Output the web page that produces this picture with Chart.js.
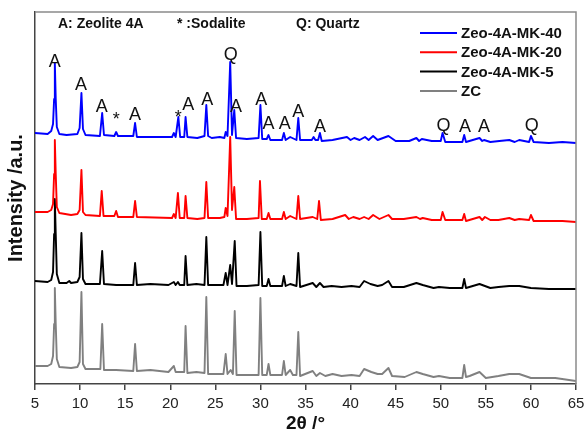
<!DOCTYPE html>
<html>
<head>
<meta charset="utf-8">
<script src="https://cdn.jsdelivr.net/npm/chart.js@4.4.1/dist/chart.umd.min.js"></script>
<style>
  html, body { margin: 0; padding: 0; background: #fff; overflow: hidden; }
  canvas { display: block; }
</style>
</head>
<body>
<canvas id="xrd" width="585" height="429"></canvas>
<script>
// XRD patterns, stacked (intensity in a.u., offsets included as plotted)
const seriesNames = ["Zeo-4A-MK-40", "Zeo-4A-MK-20", "Zeo-4A-MK-5", "ZC"];
const seriesColors = ["#0000ff", "#ff0000", "#000000", "#808080"];

const zeoMK40 = [
  [5, 251], [6.4, 250], [6.8, 253], [7.0, 260], [7.12, 285], [7.2, 321], [7.3, 285], [7.42, 257],
  [7.7, 250], [8.5, 249], [9.7, 250], [9.95, 256], [10.15, 291], [10.32, 255], [10.6, 249],
  [12.2, 248], [12.45, 271], [12.65, 249], [13.8, 248], [14.0, 252], [14.2, 248], [15.9, 248],
  [16.1, 261], [16.3, 247], [20.2, 247], [20.4, 251], [20.6, 247], [20.9, 267], [21.1, 247],
  [21.55, 247], [21.7, 267], [21.9, 247], [23.0, 246], [23.8, 248], [24.0, 279], [24.2, 248],
  [24.6, 246], [25.5, 247], [26.0, 246], [26.15, 252], [26.35, 248], [26.65, 322], [26.85, 249],
  [27.1, 274], [27.3, 246], [28.5, 245], [29.8, 246], [30.0, 279], [30.2, 245], [30.7, 245],
  [30.9, 249], [31.1, 244], [32.4, 244], [32.6, 251], [32.8, 244], [33.3, 247], [34.0, 244],
  [34.2, 266], [34.4, 244], [35.7, 244], [35.9, 247], [36.1, 244], [36.4, 244], [36.6, 251],
  [36.8, 243], [38.0, 244], [39.6, 247], [40.0, 244], [40.4, 246], [41.0, 244], [41.6, 247],
  [42.0, 244], [42.5, 248], [43.0, 244], [44.2, 248], [45.0, 243], [46.5, 243], [47.3, 246],
  [47.6, 243], [47.9, 245], [49.0, 243], [50.0, 243], [50.2, 251], [50.5, 242], [52.4, 242],
  [52.6, 249], [52.8, 242], [54.3, 246], [54.6, 243], [54.8, 244], [55.5, 242], [56.5, 243],
  [57.6, 244], [58.2, 242], [58.7, 244], [59.8, 242], [60.0, 248], [60.3, 242], [62.0, 241],
  [63.5, 242], [65, 241]
];

const zeoMK20 = [
  [5, 172], [6.4, 172], [6.8, 174], [7.0, 180], [7.12, 210], [7.2, 244], [7.3, 210], [7.42, 177],
  [7.7, 171], [9.0, 169], [9.7, 170], [9.95, 174], [10.15, 214], [10.32, 172], [10.6, 169],
  [12.2, 168], [12.4, 193], [12.6, 168], [13.8, 168], [14.0, 173], [14.2, 167], [15.9, 167],
  [16.1, 183], [16.3, 167], [20.2, 166], [20.4, 170], [20.6, 166], [20.85, 191], [21.05, 166],
  [21.55, 166], [21.7, 188], [21.9, 166], [23.0, 165], [23.8, 166], [24.0, 202], [24.2, 166],
  [25.5, 166], [26.0, 167], [26.15, 176], [26.35, 168], [26.65, 247], [26.85, 174], [27.1, 197],
  [27.3, 165], [28.5, 165], [29.8, 166], [29.95, 203], [30.15, 165], [30.7, 165], [30.9, 171],
  [31.1, 165], [32.4, 165], [32.6, 172], [32.8, 165], [33.3, 168], [34.0, 165], [34.2, 188],
  [34.4, 165], [35.8, 167], [36.3, 165], [36.5, 183], [36.7, 164], [38.0, 165], [39.4, 169],
  [39.8, 165], [40.3, 167], [41.0, 165], [41.5, 167], [42.0, 165], [42.5, 169], [43.2, 165],
  [44.2, 169], [44.6, 165], [45.9, 165], [47.3, 167], [47.7, 165], [48.0, 166], [49.0, 164],
  [50.0, 164], [50.2, 172], [50.5, 164], [52.4, 164], [52.6, 170], [52.8, 163], [54.3, 167],
  [54.6, 164], [54.9, 167], [55.5, 164], [56.4, 164], [57.6, 166], [58.2, 164], [58.7, 165],
  [59.8, 164], [60.0, 169], [60.3, 163], [62.0, 163], [63.5, 163], [65, 162]
];

const zeoMK5 = [
  [5, 103], [6.4, 102], [6.8, 104], [7.0, 112], [7.12, 150], [7.2, 185], [7.3, 150], [7.42, 110],
  [7.7, 101], [8.5, 101], [8.8, 103], [9.0, 101], [9.7, 102], [9.95, 107], [10.15, 151],
  [10.32, 105], [10.6, 100], [12.2, 100], [12.45, 133], [12.65, 100], [14.0, 99], [15.9, 99],
  [16.1, 121], [16.3, 99], [17.8, 100], [19.8, 99], [20.4, 102], [20.6, 99], [20.85, 102],
  [21.05, 99], [21.55, 99], [21.7, 128], [21.9, 99], [22.9, 100], [23.8, 99], [24.0, 147],
  [24.2, 99], [25.5, 99], [25.9, 99], [26.15, 111], [26.35, 99], [26.65, 119], [26.85, 100],
  [27.15, 143], [27.35, 98], [28.5, 98], [29.8, 99], [30.0, 152], [30.2, 98], [30.7, 98],
  [30.9, 105], [31.1, 98], [32.4, 98], [32.6, 108], [32.8, 98], [33.3, 100], [34.0, 98],
  [34.2, 131], [34.4, 97], [35.8, 101], [36.2, 97], [36.6, 101], [37.0, 97], [37.9, 98],
  [39.0, 97], [40.1, 98], [41.0, 97], [41.5, 103], [42.2, 100], [43.0, 98], [43.5, 99],
  [44.2, 103], [44.6, 97], [45.9, 97], [47.3, 101], [48.0, 99], [49.2, 96], [49.8, 97],
  [51.0, 96], [52.4, 96], [52.6, 105], [52.8, 96], [54.3, 100], [55.5, 96], [56.4, 97],
  [57.6, 98], [58.7, 98], [60.0, 96], [62.0, 95], [65, 95]
];

const zc = [
  [5, 18], [6.4, 18], [6.8, 20], [7.0, 28], [7.12, 60], [7.2, 96], [7.3, 60], [7.42, 25],
  [7.7, 17], [9.0, 16], [9.7, 17], [9.95, 22], [10.15, 92], [10.32, 20], [10.6, 15], [12.25, 15],
  [12.45, 60], [12.65, 14], [14.0, 14], [15.9, 13], [16.1, 40], [16.3, 13], [17.8, 14],
  [19.8, 12], [20.4, 18], [20.6, 12], [21.55, 12], [21.7, 58], [21.9, 11], [22.9, 12],
  [23.8, 11], [24.0, 87], [24.2, 10], [25.5, 10], [25.9, 10], [26.15, 30], [26.35, 10],
  [26.7, 14], [26.95, 10], [27.15, 73], [27.35, 9], [28.5, 9], [29.8, 9], [30.0, 86], [30.2, 9],
  [30.7, 9], [30.9, 20], [31.1, 9], [32.4, 9], [32.6, 23], [32.8, 9], [33.3, 14], [33.6, 9],
  [34.0, 9], [34.2, 52], [34.4, 8], [35.8, 13], [36.2, 8], [36.6, 11], [37.2, 8], [38.0, 10],
  [39.0, 8], [40.1, 9], [41.0, 8], [41.5, 15], [42.3, 12], [43.0, 10], [43.5, 10], [44.2, 16],
  [44.6, 8], [46.0, 7], [47.3, 12], [48.0, 10], [49.2, 7], [49.8, 8], [51.0, 6], [52.4, 6],
  [52.6, 19], [52.8, 7], [53.2, 8], [54.3, 12], [55.0, 6], [56.4, 8], [57.6, 10], [58.7, 10],
  [60.0, 6], [62.7, 6], [65, 3]
];

// peak markers (2θ, a.u. at glyph baseline)
const peakText = ["A", "A", "A", "*", "A", "*", "A", "A", "Q", "A", "A", "A", "A", "A", "A", "Q", "A", "A", "Q"];
const peakX = [7.2, 10.1, 12.4, 14.0, 16.1, 20.9, 22.0, 24.1, 26.7, 27.3, 30.1, 30.9, 32.7, 34.2, 36.6, 50.3, 52.7, 54.8, 60.1];
const peakY = [317, 294, 272, 259, 264, 261, 274, 279, 324, 272, 279, 255, 255, 267, 252, 253, 252, 252, 253];

const phaseKey = ["A: Zeolite 4A", "* :Sodalite", "Q: Quartz"];
const xTicks = [5, 10, 15, 20, 25, 30, 35, 40, 45, 50, 55, 60, 65];

const FONT = "'Liberation Sans', Arial, sans-serif";

const overlay = {
  id: "overlay",
  afterDraw(chart) {
    const { ctx, chartArea: a, scales } = chart;
    ctx.save();
    // frame top/right
    ctx.strokeStyle = "#8a8a8a";
    ctx.lineWidth = 1.5;
    ctx.beginPath();
    ctx.moveTo(a.left, a.top);
    ctx.lineTo(a.right, a.top);
    ctx.lineTo(a.right, a.bottom);
    ctx.stroke();

    // phase key
    ctx.fillStyle = "#111";
    ctx.font = "bold 14px " + FONT;
    ctx.textBaseline = "alphabetic";
    ctx.textAlign = "left";
    const keyX = [58, 177, 296];
    phaseKey.forEach((t, i) => ctx.fillText(t, keyX[i], 28));

    // peak markers
    ctx.font = "18px " + FONT;
    ctx.textAlign = "center";
    peakText.forEach((t, i) => {
      ctx.fillText(t, scales.x.getPixelForValue(peakX[i]), scales.y.getPixelForValue(peakY[i]));
    });

    // legend
    ctx.font = "bold 15px " + FONT;
    ctx.textAlign = "left";
    ctx.textBaseline = "middle";
    seriesNames.forEach((n, i) => {
      const y = 33 + i * 19.3;
      ctx.strokeStyle = seriesColors[i];
      ctx.lineWidth = 2;
      ctx.beginPath();
      ctx.moveTo(420, y);
      ctx.lineTo(457, y);
      ctx.stroke();
      ctx.fillStyle = "#111";
      ctx.fillText(n, 461, y + 1);
    });
    ctx.restore();
  }
};

const allSeries = [zeoMK40, zeoMK20, zeoMK5, zc];

new Chart(document.getElementById("xrd"), {
  type: "line",
  data: {
    datasets: allSeries.map((pts, i) => ({
      label: seriesNames[i],
      data: pts.map(([x, y]) => ({ x, y })),
      borderColor: seriesColors[i],
      borderWidth: 1.9,
      borderJoinStyle: "round",
      pointRadius: 0,
      tension: 0,
      fill: false
    }))
  },
  options: {
    responsive: false,
    animation: false,
    events: [],
    layout: { padding: { top: 12, right: 9, left: 0, bottom: 0 } },
    plugins: { legend: { display: false }, tooltip: { enabled: false } },
    scales: {
      x: {
        type: "linear",
        min: 5,
        max: 65,
        afterBuildTicks: (s) => { s.ticks = xTicks.map((v) => ({ value: v })); },
        afterFit: (s) => { s.height = 45; s.paddingLeft = 0; s.paddingRight = 0; },
        ticks: { font: { family: FONT, size: 15 }, color: "#222", padding: 5, maxRotation: 0 },
        grid: { display: true, drawOnChartArea: false, drawTicks: true, tickLength: 6, color: "#444", lineWidth: 1.5 },
        border: { display: true, color: "#444", width: 1.5 },
        title: {
          display: true,
          text: "2θ /°",
          font: { family: FONT, size: 19, weight: "bold" },
          color: "#111",
          padding: { top: 0, bottom: -6 }
        }
      },
      y: {
        min: 0,
        max: 372,
        afterFit: (s) => { s.width = 35; },
        ticks: { display: false },
        grid: { display: false },
        border: { display: true, color: "#444", width: 1.5 },
        title: {
          display: true,
          text: "Intensity /a.u.",
          font: { family: FONT, size: 20, weight: "bold" },
          color: "#111",
          padding: { top: 4, bottom: 0 }
        }
      }
    }
  },
  plugins: [overlay]
});
</script>
</body>
</html>
